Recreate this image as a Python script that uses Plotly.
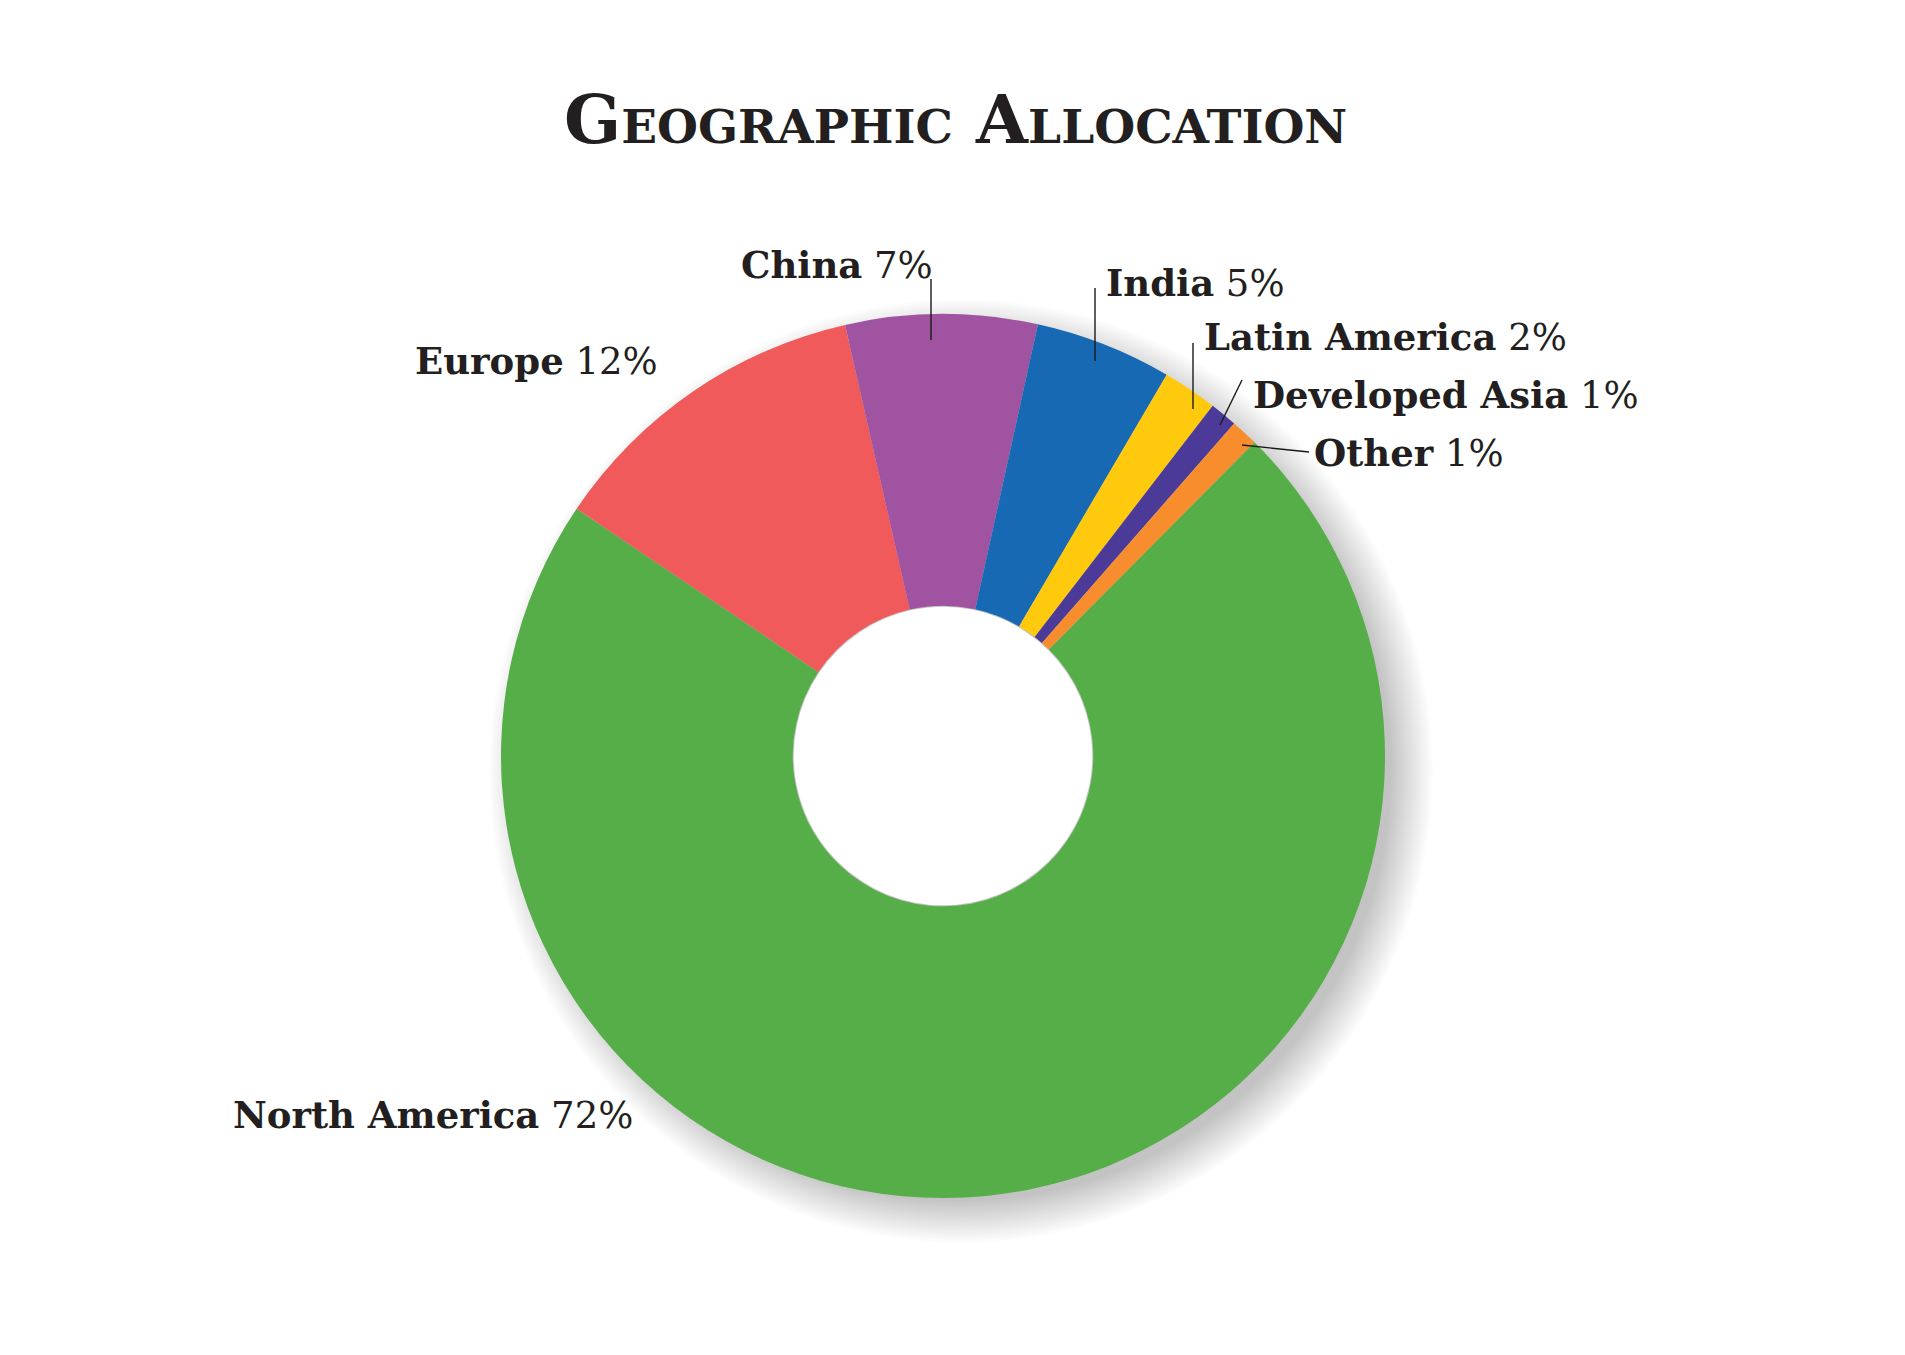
import plotly.graph_objects as go

W, H = 1905, 1355
OFF = 8  # default page body margin

regions = ["North America", "Europe", "China", "India", "Latin America", "Developed Asia", "Other"]
values = [72, 12, 7, 5, 2, 1, 1]
colors = ["#56AE48", "#F15A5B", "#A053A0", "#1769B4", "#FFC90E", "#4B3A98", "#F78D2D"]

# label positions (pixels) and leader lines
label_pos = {
    "North America": (231, 1115),
    "Europe": (413, 361),
    "China": (739, 265),
    "India": (1104, 283),
    "Latin America": (1202, 337),
    "Developed Asia": (1251, 395),
    "Other": (1312, 453),
}
leaders = {
    "China": ((931, 279), (931, 340)),
    "India": ((1095, 288), (1095, 361)),
    "Latin America": ((1193, 343), (1193, 409)),
    "Developed Asia": ((1242, 380), (1220, 425)),
    "Other": ((1309, 452), (1242, 445)),
}

cx, cy, R = 943, 756, 442
HOLE = 0.34

def px(x):
    return (x - OFF) / W

def py(y):
    return 1 - (y - OFF) / H

fig = go.Figure()
fig.add_trace(go.Pie(
    labels=regions, values=values, sort=False, direction="clockwise",
    rotation=44.8, hole=HOLE,
    marker=dict(colors=colors, line=dict(width=0)),
    textinfo="none", hoverinfo="label+percent",
    domain=dict(x=[px(cx - R), px(cx + R)], y=[py(cy + R), py(cy - R)]),
    showlegend=False,
))

shapes = []
# soft drop shadow (layered translucent circles)
for i in range(20):
    r = R - 12 + i * 2.2
    ox, oy = 18, 15
    shapes.append(dict(type="circle", xref="paper", yref="paper", layer="below",
                       x0=px(cx + ox - r), x1=px(cx + ox + r),
                       y0=py(cy + oy + r), y1=py(cy + oy - r),
                       fillcolor="rgba(0,0,0,0.011)", line=dict(width=0)))
# keep the hole clean
rh = R * HOLE
shapes.append(dict(type="circle", xref="paper", yref="paper", layer="above",
                   x0=px(cx - rh + 1), x1=px(cx + rh - 1),
                   y0=py(cy + rh - 1), y1=py(cy - rh + 1),
                   fillcolor="white", line=dict(width=0)))
for name, ((x0, y0), (x1, y1)) in leaders.items():
    shapes.append(dict(type="line", xref="paper", yref="paper",
                       x0=px(x0), y0=py(y0), x1=px(x1), y1=py(y1),
                       line=dict(color="#1a1a1a", width=1.4)))

annotations = [dict(
    text="Geographic Allocation", x=px(955), y=py(119), xref="paper", yref="paper",
    xanchor="center", yanchor="middle", showarrow=False,
    font=dict(family="DejaVu Serif", size=67, color="#231F20", weight="bold", variant="small-caps"),
)]
for name, v in zip(regions, values):
    x, y = label_pos[name]
    annotations.append(dict(
        text=f"<b>{name}</b> {v}%", x=px(x), y=py(y), xref="paper", yref="paper",
        xanchor="left", yanchor="middle", showarrow=False,
        font=dict(family="DejaVu Serif", size=37, color="#231F20"),
    ))

fig.update_layout(
    width=W, height=H, margin=dict(l=0, r=0, t=0, b=0),
    paper_bgcolor="white", plot_bgcolor="white",
    shapes=shapes, annotations=annotations,
)

fig.write_html("out.html")
